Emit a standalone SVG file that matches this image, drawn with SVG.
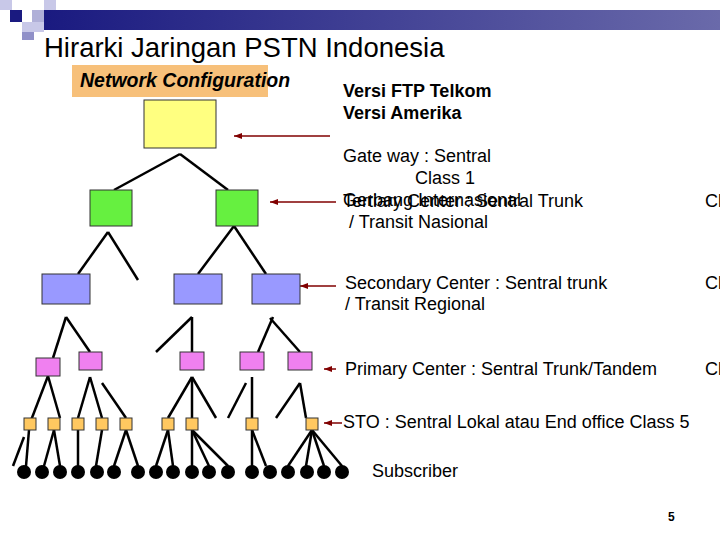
<svg xmlns="http://www.w3.org/2000/svg" width="720" height="540" viewBox="0 0 720 540">
<defs>
<linearGradient id="bar" x1="0" x2="1"><stop offset="0" stop-color="#1a1a80"/><stop offset="1" stop-color="#6a6aaa"/></linearGradient>
<marker id="ah" markerWidth="8" markerHeight="6" refX="8" refY="3" orient="auto" markerUnits="userSpaceOnUse"><path d="M0,0 L8,3 L0,6 z" fill="#800000"/></marker>
<style>
text{font-family:"Liberation Sans",Arial,sans-serif;fill:#000}
.t{font-size:18px}
.b{font-size:18px;font-weight:bold}
.l line{stroke:#000;stroke-width:2.5}
.ar line{stroke:#800000;stroke-width:1.5}
.n rect{stroke:#333;stroke-width:1}
</style>
</defs>
<rect width="720" height="540" fill="#fff"/>
<g id="logo">
<rect x="0" y="0" width="12" height="10" fill="#c8c8e8"/>
<rect x="44" y="0" width="12" height="10" fill="#c8c8e8"/>
<rect x="10" y="10" width="12" height="12" fill="#1a1a80"/>
<rect x="32" y="10" width="12" height="12" fill="#b0b0d8"/>
<rect x="44" y="10" width="676" height="20" fill="url(#bar)"/>
<rect x="22" y="22" width="22" height="10" fill="#c8c8e8"/>
<rect x="22" y="32" width="12" height="8" fill="#9090c8"/>
</g>
<text x="44" y="57" style="font-size:27.5px">Hirarki Jaringan PSTN Indonesia</text>
<g id="netconf"><rect x="72" y="65" width="196" height="32" fill="#f7c07a"/>
<text x="80" y="87" style="font-size:19.5px;font-weight:bold;font-style:italic">Network Configuration</text></g>
<g class="l" id="connectors">
<line x1="180" y1="154" x2="114" y2="190"/><line x1="180" y1="154" x2="228" y2="190"/>
<line x1="108" y1="232" x2="78" y2="274"/><line x1="108" y1="232" x2="138" y2="280"/>
<line x1="234" y1="226" x2="198" y2="274"/><line x1="234" y1="226" x2="266" y2="274"/>
<line x1="66" y1="317" x2="53" y2="358"/><line x1="66" y1="317" x2="90" y2="352"/>
<line x1="192" y1="317" x2="156" y2="352"/><line x1="192" y1="317" x2="192" y2="352"/>
<line x1="273" y1="317" x2="258" y2="352"/><line x1="270" y1="318" x2="300" y2="352"/>
<line x1="48" y1="376" x2="30" y2="423"/><line x1="48" y1="376" x2="60" y2="418"/>
<line x1="90" y1="377" x2="78" y2="418"/><line x1="90" y1="377" x2="102" y2="418"/><line x1="102" y1="383" x2="126" y2="418"/>
<line x1="192" y1="377" x2="168" y2="418"/><line x1="192" y1="377" x2="192" y2="418"/><line x1="192" y1="377" x2="216" y2="418"/>
<line x1="246" y1="383" x2="228" y2="418"/><line x1="252" y1="377" x2="252" y2="418"/>
<line x1="300" y1="383" x2="276" y2="418"/><line x1="300" y1="383" x2="306" y2="418"/>
<line x1="24" y1="437" x2="13" y2="466"/><line x1="29" y1="430" x2="26" y2="466"/>
<line x1="54" y1="430" x2="44" y2="466"/><line x1="54" y1="430" x2="60" y2="466"/>
<line x1="78" y1="430" x2="78" y2="466"/><line x1="102" y1="430" x2="96" y2="466"/>
<line x1="126" y1="430" x2="114" y2="466"/><line x1="126" y1="430" x2="138" y2="466"/>
<line x1="168" y1="430" x2="156" y2="466"/><line x1="168" y1="430" x2="173" y2="466"/>
<line x1="192" y1="430" x2="192" y2="466"/><line x1="192" y1="430" x2="209" y2="466"/><line x1="192" y1="430" x2="228" y2="466"/>
<line x1="252" y1="430" x2="252" y2="466"/><line x1="252" y1="430" x2="266" y2="466"/>
<line x1="312" y1="430" x2="288" y2="466"/><line x1="312" y1="430" x2="306" y2="466"/><line x1="312" y1="430" x2="324" y2="466"/><line x1="312" y1="430" x2="342" y2="466"/>
</g>
<g class="ar" id="arrows">
<line x1="330" y1="136" x2="234" y2="136" marker-end="url(#ah)"/>
<line x1="336" y1="202" x2="270" y2="202" marker-end="url(#ah)"/>
<line x1="336" y1="286" x2="300" y2="286" marker-end="url(#ah)"/>
<line x1="336" y1="369" x2="324" y2="369" marker-end="url(#ah)"/>
<line x1="342" y1="423" x2="324" y2="423" marker-end="url(#ah)"/>
</g>
<g class="n" id="gateway"><rect x="144" y="100" width="72" height="48" fill="#ffff80"/></g>
<g class="n" id="tertiary"><rect x="90" y="190" width="42" height="36" fill="#66f040"/><rect x="216" y="190" width="42" height="36" fill="#66f040"/></g>
<g class="n" id="secondary"><rect x="42" y="274" width="48" height="30" fill="#9999ff"/><rect x="174" y="274" width="48" height="30" fill="#9999ff"/><rect x="252" y="274" width="48" height="30" fill="#9999ff"/></g>
<g class="n" id="primary"><rect x="36" y="358" width="24" height="18" fill="#f080f0"/><rect x="79" y="352" width="23" height="18" fill="#f080f0"/><rect x="180" y="352" width="24" height="18" fill="#f080f0"/><rect x="240" y="352" width="24" height="18" fill="#f080f0"/><rect x="288" y="352" width="24" height="18" fill="#f080f0"/></g>
<g class="n" id="sto">
<rect x="24" y="418" width="12" height="12" fill="#ffc860"/><rect x="48" y="418" width="12" height="12" fill="#ffc860"/><rect x="72" y="418" width="12" height="12" fill="#ffc860"/><rect x="96" y="418" width="12" height="12" fill="#ffc860"/><rect x="120" y="418" width="12" height="12" fill="#ffc860"/><rect x="162" y="418" width="12" height="12" fill="#ffc860"/><rect x="186" y="418" width="12" height="12" fill="#ffc860"/><rect x="246" y="418" width="12" height="12" fill="#ffc860"/><rect x="306" y="418" width="12" height="12" fill="#ffc860"/>
</g>
<g id="subscribers" fill="#000">
<circle cx="24" cy="472" r="7"/><circle cx="42" cy="472" r="7"/><circle cx="60" cy="472" r="7"/><circle cx="78" cy="472" r="7"/><circle cx="97" cy="472" r="7"/><circle cx="114" cy="472" r="7"/><circle cx="138" cy="472" r="7"/><circle cx="156" cy="472" r="7"/><circle cx="173" cy="472" r="7"/><circle cx="192" cy="472" r="7"/><circle cx="209" cy="472" r="7"/><circle cx="228" cy="472" r="7"/><circle cx="252" cy="472" r="7"/><circle cx="270" cy="472" r="7"/><circle cx="288" cy="472" r="7"/><circle cx="307" cy="472" r="7"/><circle cx="324" cy="472" r="7"/><circle cx="342" cy="472" r="7"/>
</g>
<g id="labels">
<text class="b" x="343" y="97">Versi FTP Telkom</text>
<text class="b" x="343" y="119">Versi Amerika</text>
<text class="t" x="343" y="162">Gate way : Sentral</text>
<text class="t" x="415" y="184">Class 1</text>
<text class="t" x="343" y="206">Gerbang Internasional</text>
<text class="t" x="343" y="207">Tertiary Center : Sentral Trunk</text>
<text class="t" x="705" y="207">Cl</text>
<text class="t" x="349" y="228">/ Transit Nasional</text>
<text class="t" x="345" y="289">Secondary Center : Sentral trunk</text>
<text class="t" x="705" y="289">Cl</text>
<text class="t" x="345" y="310">/ Transit Regional</text>
<text class="t" x="345" y="375">Primary Center : Sentral Trunk/Tandem</text>
<text class="t" x="705" y="375">Cl</text>
<text class="t" x="343" y="428">STO : Sentral Lokal atau End office Class 5</text>
<text class="t" x="372" y="477">Subscriber</text>
<text x="668" y="521" style="font-size:12px;font-weight:bold">5</text>
</g>
</svg>
